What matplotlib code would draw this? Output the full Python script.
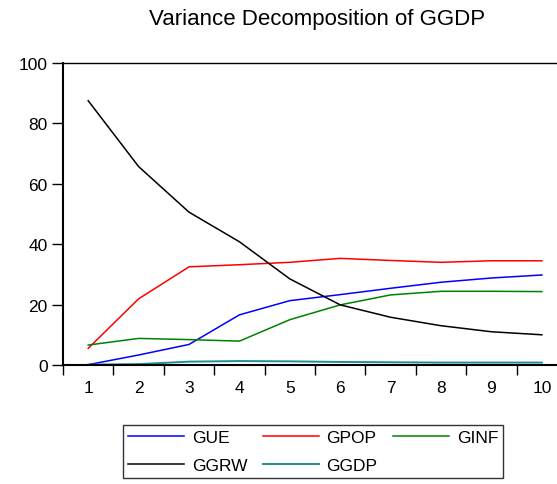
import matplotlib
matplotlib.use("Agg")
import matplotlib.pyplot as plt
import numpy as np

plt.rcParams['font.family'] = ['Liberation Sans', 'DejaVu Sans']

periods = [1, 2, 3, 4, 5, 6, 7, 8, 9, 10]
gue = [0.1, 3.3, 6.8, 16.6, 21.3, 23.3, 25.4, 27.4, 28.8, 29.8]
gpop = [5.5, 21.9, 32.5, 33.2, 34.0, 35.3, 34.6, 34.0, 34.5, 34.5]
ginf = [6.6, 8.8, 8.4, 7.9, 15.0, 19.9, 23.2, 24.4, 24.4, 24.3]
ggrw = [87.5, 65.7, 50.6, 40.8, 28.5, 19.9, 15.8, 13.0, 11.0, 10.0]
ggdp = [0.1, 0.3, 1.1, 1.3, 1.2, 1.0, 0.9, 0.8, 0.8, 0.8]

fig = plt.figure(figsize=(5.57, 4.85), dpi=100)
ax = fig.add_axes([0.1131, 0.2454, 0.905, 0.6227])

l_gue, = ax.plot(periods, gue, color='#0000ff', lw=1.1, label='GUE')
l_gpop, = ax.plot(periods, gpop, color='#ff0000', lw=1.1, label='GPOP')
l_ginf, = ax.plot(periods, ginf, color='#008000', lw=1.1, label='GINF')
l_ggrw, = ax.plot(periods, ggrw, color='#000000', lw=1.1, label='GGRW')
l_ggdp, = ax.plot(periods, ggdp, color='#1f8f8f', lw=1.4, label='GGDP')

ax.set_xlim(0.5, 10.5)
ax.set_ylim(0, 100)
ax.set_yticks([0, 20, 40, 60, 80, 100])
ax.set_xticks(periods)
ax.set_xticks(np.arange(0.5, 10.6, 1), minor=True)
ax.tick_params(axis='x', which='major', length=0, pad=11, labelsize=12.5)
ax.tick_params(axis='x', which='minor', length=7, width=1, direction='out')
ax.tick_params(axis='y', length=8, width=1, direction='out', pad=3, labelsize=12.5)
ax.spines['left'].set_linewidth(1.5)
ax.spines['bottom'].set_linewidth(1.5)
ax.spines['top'].set_linewidth(1.0)
ax.spines['right'].set_visible(False)

fig.text(0.570, 0.959, 'Variance Decomposition of GGDP', ha='center', va='center', fontsize=16)

# column-major fill -> order so rows read GUE GPOP GINF / GGRW GGDP
handles = [l_gue, l_ggrw, l_gpop, l_ggdp, l_ginf]
leg = fig.legend(handles, [h.get_label() for h in handles],
                 loc='upper left', bbox_to_anchor=(0.221, 1 - 426 / 485), ncol=3,
                 fontsize=12.5, handlelength=3.2, handletextpad=0.46, columnspacing=0.9,
                 frameon=True, fancybox=False, edgecolor='black', borderpad=0.3,
                 labelspacing=0.7, borderaxespad=0)
leg.get_frame().set_linewidth(1.0)

fig.savefig('out.png', dpi=100)
